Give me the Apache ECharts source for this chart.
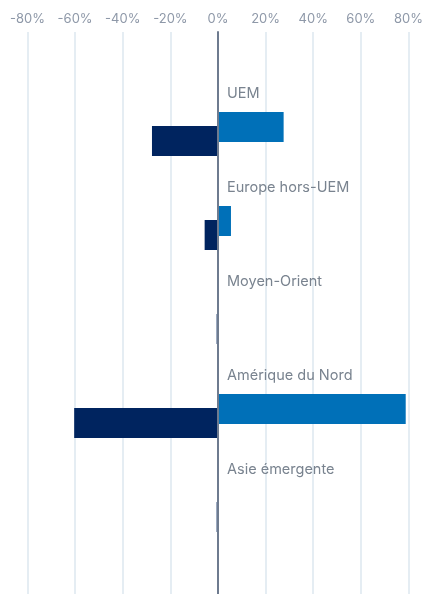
<!DOCTYPE html>
<html>
<head>
<meta charset="utf-8">
<script src="https://cdn.jsdelivr.net/npm/echarts@6/dist/echarts.min.js"></script>
<style>
  html, body { margin: 0; padding: 0; background: #ffffff; }
  #chart { width: 426px; height: 594px; }
</style>
</head>
<body>
<div id="chart"></div>
<script>
// Régions
const regions = ['UEM', 'Europe hors-UEM', 'Moyen-Orient', 'Amérique du Nord', 'Asie émergente'];
// Deux séries de variations (%)
const seriesA = [27, 5, 0, 78, 0];
const seriesB = [-28, -6, -1, -60.5, -1];
// Graduations de l'axe horizontal
const xMin = -80;
const xMax = 80;
const xStep = 20;

const FONT = 'Inter';
const chart = echarts.init(document.getElementById('chart'), null, { renderer: 'canvas' });

chart.setOption({
  animation: false,
  backgroundColor: '#ffffff',
  textStyle: { fontFamily: FONT },
  grid: [
    // cadre des graduations et du quadrillage
    { left: 27.5, right: 15.5, top: 32, bottom: -10, containLabel: false },
    // cadre des barres
    { left: 27.5, right: 15.5, top: 87, height: 470, containLabel: false }
  ],
  xAxis: [
    {
      gridIndex: 0, type: 'value', position: 'top',
      min: xMin, max: xMax, interval: xStep,
      axisLine: { show: false }, axisTick: { show: false },
      splitLine: { show: true, lineStyle: { color: '#dde7ef', width: 1.5 } },
      axisLabel: {
        formatter: v => v + '%', color: '#8e98a8', fontSize: 13,
        fontFamily: FONT, margin: 6
      }
    },
    {
      gridIndex: 1, type: 'value', min: xMin, max: xMax, interval: xStep,
      show: false
    }
  ],
  yAxis: [
    {
      gridIndex: 0, type: 'value', min: 0, max: 1, z: 5,
      axisLine: { show: true, onZero: true, lineStyle: { color: '#6e7b8f', width: 2 } },
      axisTick: { show: false }, axisLabel: { show: false }, splitLine: { show: false }
    },
    {
      gridIndex: 1, type: 'category', data: regions, inverse: true,
      show: false
    }
  ],
  series: [
    {
      type: 'bar', xAxisIndex: 1, yAxisIndex: 1, data: seriesA,
      barWidth: 30, barGap: '-53.3%',
      itemStyle: { color: '#0070b8' },
      // nom de la région au-dessus de chaque paire de barres
      label: {
        show: true, formatter: '{b}', position: [8, -18],
        align: 'left', verticalAlign: 'middle',
        color: '#79838f', fontSize: 14.5, fontFamily: FONT
      }
    },
    {
      type: 'bar', xAxisIndex: 1, yAxisIndex: 1, data: seriesB,
      barWidth: 30, barGap: '-53.3%',
      itemStyle: { color: '#00245f' }
    }
  ]
});
</script>
</body>
</html>
